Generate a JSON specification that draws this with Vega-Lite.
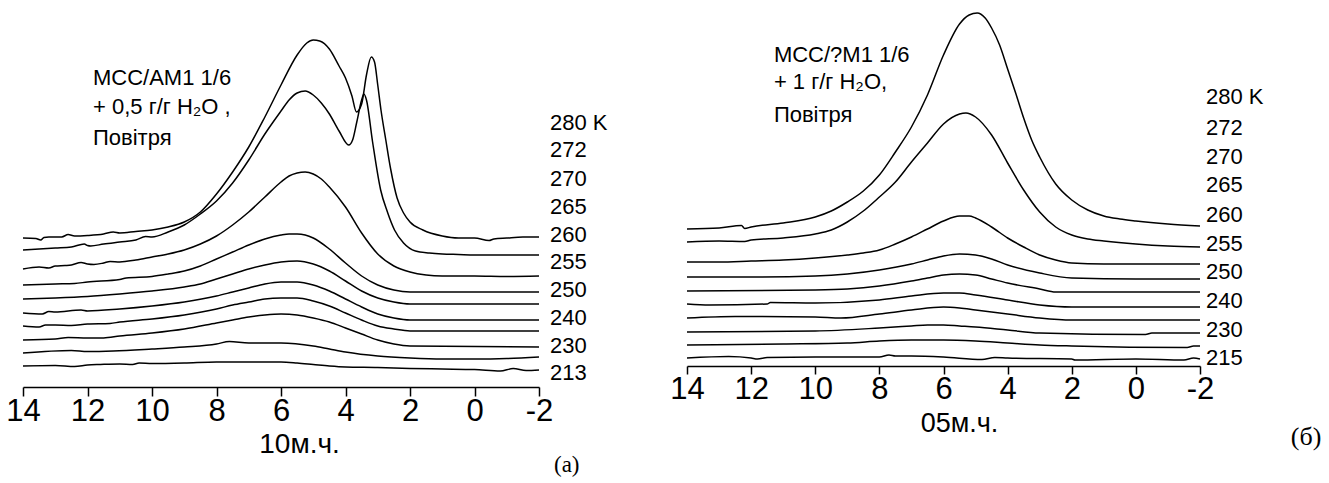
{
  "$schema": "https://vega.github.io/schema/vega-lite/v6.json",
  "padding": {"left": 5, "top": 0, "right": 0, "bottom": 0},
  "spacing": 148,
  "bounds": "flush",
  "config": {"view": {"stroke": null}, "font": "Liberation Sans"},
  "datasets": {
    "left": [
      {"s":"280","x":14,"y":149},{"s":"280","x":13.6,"y":148.5},{"s":"280","x":13.45,"y":147},{"s":"280","x":13.35,"y":149.5},{"s":"280","x":13.2,"y":150},{"s":"280","x":12.8,"y":150},{"s":"280","x":12.6,"y":152.5},{"s":"280","x":12.4,"y":151},{"s":"280","x":12,"y":151.5},{"s":"280","x":11.5,"y":153},{"s":"280","x":11.2,"y":155},{"s":"280","x":11,"y":154},{"s":"280","x":10.5,"y":155.5},{"s":"280","x":10,"y":157},{"s":"280","x":9.5,"y":160},{"s":"280","x":9,"y":165},{"s":"280","x":8.5,"y":175},{"s":"280","x":8,"y":193},{"s":"280","x":7.5,"y":215},{"s":"280","x":7,"y":240},{"s":"280","x":6.5,"y":270},{"s":"280","x":6,"y":302},{"s":"280","x":5.5,"y":332},{"s":"280","x":5.2,"y":344},{"s":"280","x":5,"y":347},{"s":"280","x":4.8,"y":346},{"s":"280","x":4.5,"y":338},{"s":"280","x":4.2,"y":321},{"s":"280","x":4,"y":309},{"s":"280","x":3.8,"y":291},{"s":"280","x":3.66,"y":275},{"s":"280","x":3.5,"y":283},{"s":"280","x":3.35,"y":312},{"s":"280","x":3.2,"y":330},{"s":"280","x":3.1,"y":325},{"s":"280","x":3,"y":302},{"s":"280","x":2.9,"y":277},{"s":"280","x":2.75,"y":247},{"s":"280","x":2.6,"y":218},{"s":"280","x":2.4,"y":189},{"s":"280","x":2.2,"y":174},{"s":"280","x":2,"y":165},{"s":"280","x":1.6,"y":157},{"s":"280","x":1,"y":151},{"s":"280","x":0.5,"y":149},{"s":"280","x":0,"y":149},{"s":"280","x":-0.45,"y":146.5},{"s":"280","x":-0.6,"y":148},{"s":"280","x":-1,"y":149},{"s":"280","x":-1.5,"y":150},{"s":"280","x":-2,"y":150},
      {"s":"272","x":14,"y":137},{"s":"272","x":13.5,"y":138},{"s":"272","x":13,"y":139},{"s":"272","x":12.5,"y":140},{"s":"272","x":12.1,"y":143},{"s":"272","x":12,"y":141.5},{"s":"272","x":11.9,"y":141},{"s":"272","x":11.5,"y":143},{"s":"272","x":11,"y":145},{"s":"272","x":10.5,"y":147},{"s":"272","x":10.2,"y":150.5},{"s":"272","x":10,"y":150},{"s":"272","x":9.5,"y":155},{"s":"272","x":9,"y":162},{"s":"272","x":8.5,"y":173},{"s":"272","x":8,"y":186},{"s":"272","x":7.5,"y":204},{"s":"272","x":7,"y":227},{"s":"272","x":6.5,"y":253},{"s":"272","x":6,"y":276},{"s":"272","x":5.75,"y":287},{"s":"272","x":5.5,"y":294},{"s":"272","x":5.25,"y":296},{"s":"272","x":5,"y":292},{"s":"272","x":4.75,"y":284},{"s":"272","x":4.5,"y":273},{"s":"272","x":4.2,"y":256},{"s":"272","x":3.9,"y":242},{"s":"272","x":3.78,"y":247},{"s":"272","x":3.65,"y":265},{"s":"272","x":3.5,"y":287},{"s":"272","x":3.43,"y":293},{"s":"272","x":3.35,"y":287},{"s":"272","x":3.16,"y":245},{"s":"272","x":2.91,"y":197},{"s":"272","x":2.7,"y":175},{"s":"272","x":2.48,"y":157},{"s":"272","x":2.2,"y":144},{"s":"272","x":1.83,"y":136},{"s":"272","x":1.4,"y":134},{"s":"272","x":1,"y":133},{"s":"272","x":0.5,"y":132.5},{"s":"272","x":0,"y":132},{"s":"272","x":-1,"y":132},{"s":"272","x":-2,"y":132},
      {"s":"270","x":14,"y":118},{"s":"270","x":13.5,"y":120},{"s":"270","x":13.2,"y":119},{"s":"270","x":13,"y":121},{"s":"270","x":12.7,"y":121.5},{"s":"270","x":12.5,"y":122},{"s":"270","x":12.2,"y":124.5},{"s":"270","x":12,"y":123},{"s":"270","x":11.8,"y":122.5},{"s":"270","x":11.5,"y":124},{"s":"270","x":11.3,"y":125.5},{"s":"270","x":11,"y":125},{"s":"270","x":10.5,"y":127},{"s":"270","x":10,"y":130},{"s":"270","x":9.5,"y":133},{"s":"270","x":9,"y":137},{"s":"270","x":8.5,"y":143},{"s":"270","x":8,"y":151},{"s":"270","x":7.5,"y":162},{"s":"270","x":7,"y":175},{"s":"270","x":6.5,"y":190},{"s":"270","x":6,"y":205},{"s":"270","x":5.75,"y":211},{"s":"270","x":5.5,"y":214},{"s":"270","x":5.25,"y":215},{"s":"270","x":5,"y":213},{"s":"270","x":4.75,"y":208},{"s":"270","x":4.5,"y":200},{"s":"270","x":4,"y":180},{"s":"270","x":3.5,"y":154},{"s":"270","x":3,"y":133},{"s":"270","x":2.5,"y":121},{"s":"270","x":2,"y":115},{"s":"270","x":1.5,"y":112},{"s":"270","x":1,"y":111},{"s":"270","x":0,"y":111},{"s":"270","x":-1,"y":110.5},{"s":"270","x":-2,"y":111},
      {"s":"265","x":14,"y":102},{"s":"265","x":13,"y":103},{"s":"265","x":12.4,"y":103.5},{"s":"265","x":12,"y":105},{"s":"265","x":11,"y":107.5},{"s":"265","x":10.8,"y":109},{"s":"265","x":10,"y":110.5},{"s":"265","x":9.5,"y":113},{"s":"265","x":9,"y":116},{"s":"265","x":8.5,"y":121},{"s":"265","x":8,"y":128},{"s":"265","x":7.5,"y":135},{"s":"265","x":7,"y":142},{"s":"265","x":6.5,"y":148},{"s":"265","x":6,"y":152},{"s":"265","x":5.75,"y":153},{"s":"265","x":5.5,"y":153},{"s":"265","x":5.25,"y":152},{"s":"265","x":5,"y":149},{"s":"265","x":4.5,"y":138},{"s":"265","x":4,"y":124},{"s":"265","x":3.5,"y":111},{"s":"265","x":3,"y":102},{"s":"265","x":2.5,"y":97},{"s":"265","x":2,"y":95},{"s":"265","x":1,"y":95},{"s":"265","x":0,"y":95},{"s":"265","x":-1,"y":95},{"s":"265","x":-2,"y":95},
      {"s":"260","x":14,"y":88},{"s":"260","x":13,"y":89},{"s":"260","x":12,"y":90.5},{"s":"260","x":11,"y":93},{"s":"260","x":10,"y":96},{"s":"260","x":9,"y":100},{"s":"260","x":8.5,"y":103},{"s":"260","x":8,"y":108},{"s":"260","x":7.5,"y":113},{"s":"260","x":7,"y":118},{"s":"260","x":6.5,"y":122},{"s":"260","x":6,"y":125},{"s":"260","x":5.5,"y":126},{"s":"260","x":5,"y":123},{"s":"260","x":4.5,"y":116},{"s":"260","x":4,"y":106},{"s":"260","x":3.5,"y":96},{"s":"260","x":3,"y":89},{"s":"260","x":2.5,"y":85},{"s":"260","x":2,"y":83},{"s":"260","x":0,"y":83},{"s":"260","x":-2,"y":83},
      {"s":"255","x":14,"y":74},{"s":"255","x":13.4,"y":73},{"s":"255","x":13.2,"y":75.5},{"s":"255","x":13,"y":75},{"s":"255","x":12.2,"y":77},{"s":"255","x":12,"y":76},{"s":"255","x":11,"y":78},{"s":"255","x":10,"y":81},{"s":"255","x":9,"y":85},{"s":"255","x":8,"y":91},{"s":"255","x":7.5,"y":95},{"s":"255","x":7,"y":99},{"s":"255","x":6.5,"y":103},{"s":"255","x":6,"y":105},{"s":"255","x":5.5,"y":105},{"s":"255","x":5,"y":102},{"s":"255","x":4.5,"y":96},{"s":"255","x":4,"y":88},{"s":"255","x":3.5,"y":80},{"s":"255","x":3,"y":73},{"s":"255","x":2.5,"y":69},{"s":"255","x":2,"y":67},{"s":"255","x":-2,"y":67},
      {"s":"250","x":14,"y":61},{"s":"250","x":13.5,"y":60},{"s":"250","x":13.3,"y":62},{"s":"250","x":13,"y":62},{"s":"250","x":12.5,"y":61.5},{"s":"250","x":12,"y":63},{"s":"250","x":11.3,"y":63.5},{"s":"250","x":11,"y":65},{"s":"250","x":10,"y":68},{"s":"250","x":9,"y":72},{"s":"250","x":8,"y":78},{"s":"250","x":7.5,"y":82},{"s":"250","x":7,"y":85},{"s":"250","x":6.5,"y":88},{"s":"250","x":6,"y":89},{"s":"250","x":5.5,"y":89},{"s":"250","x":5,"y":86},{"s":"250","x":4.5,"y":81},{"s":"250","x":4,"y":74},{"s":"250","x":3.5,"y":67},{"s":"250","x":3,"y":61},{"s":"250","x":2.5,"y":58},{"s":"250","x":2,"y":56},{"s":"250","x":-2,"y":56},
      {"s":"240","x":14,"y":47},{"s":"240","x":13,"y":48},{"s":"240","x":12.6,"y":49.5},{"s":"240","x":12,"y":49},{"s":"240","x":11.5,"y":49},{"s":"240","x":11,"y":51},{"s":"240","x":10,"y":54},{"s":"240","x":9,"y":58},{"s":"240","x":8,"y":64},{"s":"240","x":7.5,"y":67},{"s":"240","x":7,"y":70},{"s":"240","x":6.5,"y":72},{"s":"240","x":6,"y":73},{"s":"240","x":5.5,"y":72},{"s":"240","x":5,"y":69},{"s":"240","x":4.5,"y":65},{"s":"240","x":4,"y":59},{"s":"240","x":3.5,"y":53},{"s":"240","x":3,"y":47},{"s":"240","x":2.5,"y":43},{"s":"240","x":2,"y":41},{"s":"240","x":-2,"y":40},
      {"s":"230","x":14,"y":34},{"s":"230","x":12.5,"y":36.5},{"s":"230","x":12,"y":35.5},{"s":"230","x":11.2,"y":36},{"s":"230","x":10,"y":38},{"s":"230","x":9,"y":40},{"s":"230","x":8,"y":43},{"s":"230","x":7.6,"y":45.5},{"s":"230","x":7,"y":44},{"s":"230","x":6,"y":44},{"s":"230","x":5,"y":41},{"s":"230","x":4.5,"y":38},{"s":"230","x":4,"y":35},{"s":"230","x":3,"y":31},{"s":"230","x":2,"y":29},{"s":"230","x":1,"y":28},{"s":"230","x":0,"y":28},{"s":"230","x":-1,"y":28.5},{"s":"230","x":-2,"y":30},
      {"s":"213","x":14,"y":21},{"s":"213","x":13,"y":21.5},{"s":"213","x":12.4,"y":20.5},{"s":"213","x":12,"y":22},{"s":"213","x":11.6,"y":22.5},{"s":"213","x":11,"y":23},{"s":"213","x":10.6,"y":22.5},{"s":"213","x":10.4,"y":24},{"s":"213","x":10,"y":23.5},{"s":"213","x":9,"y":24},{"s":"213","x":8,"y":25},{"s":"213","x":7,"y":25},{"s":"213","x":6,"y":25},{"s":"213","x":5.5,"y":24},{"s":"213","x":5,"y":22.5},{"s":"213","x":4.5,"y":21},{"s":"213","x":4,"y":20},{"s":"213","x":3,"y":19.5},{"s":"213","x":2,"y":18.5},{"s":"213","x":1,"y":18},{"s":"213","x":0,"y":17.5},{"s":"213","x":-0.8,"y":16},{"s":"213","x":-1.2,"y":18.5},{"s":"213","x":-1.6,"y":16.5},{"s":"213","x":-2,"y":17}
    ],
    "right": [
      {"s":"280","x":14,"y":137},{"s":"280","x":13,"y":138},{"s":"280","x":12.3,"y":140.5},{"s":"280","x":12.2,"y":137.5},{"s":"280","x":12,"y":139},{"s":"280","x":11,"y":143},{"s":"280","x":10,"y":149},{"s":"280","x":9.5,"y":155},{"s":"280","x":9,"y":164},{"s":"280","x":8.5,"y":175},{"s":"280","x":8,"y":191},{"s":"280","x":7.5,"y":214},{"s":"280","x":7,"y":239},{"s":"280","x":6.5,"y":271},{"s":"280","x":6,"y":311},{"s":"280","x":5.5,"y":342},{"s":"280","x":5.2,"y":351},{"s":"280","x":4.95,"y":353},{"s":"280","x":4.7,"y":348},{"s":"280","x":4.5,"y":338},{"s":"280","x":4.25,"y":321},{"s":"280","x":4,"y":297},{"s":"280","x":3.75,"y":273},{"s":"280","x":3.5,"y":248},{"s":"280","x":3.25,"y":226},{"s":"280","x":3,"y":209},{"s":"280","x":2.5,"y":182},{"s":"280","x":2,"y":166},{"s":"280","x":1.5,"y":156},{"s":"280","x":1,"y":150},{"s":"280","x":0.5,"y":147},{"s":"280","x":0,"y":145},{"s":"280","x":-1,"y":142},{"s":"280","x":-2,"y":140},
      {"s":"272","x":14,"y":124},{"s":"272","x":13,"y":125},{"s":"272","x":12.2,"y":124.5},{"s":"272","x":12,"y":126},{"s":"272","x":11,"y":128},{"s":"272","x":10,"y":132},{"s":"272","x":9.5,"y":136},{"s":"272","x":9,"y":144},{"s":"272","x":8.5,"y":155},{"s":"272","x":8,"y":169},{"s":"272","x":7.5,"y":184},{"s":"272","x":7,"y":204},{"s":"272","x":6.5,"y":223},{"s":"272","x":6,"y":242},{"s":"272","x":5.5,"y":252},{"s":"272","x":5.3,"y":253},{"s":"272","x":5,"y":249},{"s":"272","x":4.5,"y":231},{"s":"272","x":4,"y":203},{"s":"272","x":3.5,"y":176},{"s":"272","x":3,"y":154},{"s":"272","x":2.5,"y":139},{"s":"272","x":2,"y":131},{"s":"272","x":1.5,"y":127},{"s":"272","x":1,"y":125},{"s":"272","x":0,"y":122},{"s":"272","x":-1,"y":120},{"s":"272","x":-2,"y":119},
      {"s":"270","x":14,"y":104},{"s":"270","x":13,"y":104},{"s":"270","x":12,"y":105},{"s":"270","x":11,"y":106},{"s":"270","x":10,"y":108},{"s":"270","x":9,"y":111},{"s":"270","x":8.5,"y":113},{"s":"270","x":8,"y":116},{"s":"270","x":7.5,"y":122},{"s":"270","x":7,"y":129},{"s":"270","x":6.5,"y":137},{"s":"270","x":6,"y":145},{"s":"270","x":5.5,"y":150},{"s":"270","x":5.2,"y":150},{"s":"270","x":5,"y":148},{"s":"270","x":4.5,"y":139},{"s":"270","x":4,"y":128},{"s":"270","x":3.5,"y":119},{"s":"270","x":3,"y":111},{"s":"270","x":2.5,"y":106},{"s":"270","x":2,"y":103},{"s":"270","x":1,"y":102},{"s":"270","x":0,"y":102},{"s":"270","x":-2,"y":102},
      {"s":"265","x":14,"y":89},{"s":"265","x":12,"y":89},{"s":"265","x":10,"y":90},{"s":"265","x":9,"y":92},{"s":"265","x":8,"y":96},{"s":"265","x":7,"y":102},{"s":"265","x":6.5,"y":106},{"s":"265","x":6,"y":110},{"s":"265","x":5.5,"y":112},{"s":"265","x":5,"y":111},{"s":"265","x":4.5,"y":107},{"s":"265","x":4,"y":101},{"s":"265","x":3,"y":93},{"s":"265","x":2,"y":88},{"s":"265","x":0,"y":87},{"s":"265","x":-2,"y":87},
      {"s":"260","x":14,"y":75},{"s":"260","x":10,"y":76},{"s":"260","x":9,"y":77},{"s":"260","x":8,"y":80},{"s":"260","x":7,"y":85},{"s":"260","x":6.5,"y":88},{"s":"260","x":6,"y":91},{"s":"260","x":5.5,"y":92},{"s":"260","x":5,"y":91},{"s":"260","x":4.5,"y":87},{"s":"260","x":4,"y":83},{"s":"260","x":3,"y":77},{"s":"260","x":2.5,"y":74},{"s":"260","x":-2,"y":74},
      {"s":"255","x":14,"y":62},{"s":"255","x":13.3,"y":61},{"s":"255","x":11.5,"y":62},{"s":"255","x":11.4,"y":63.5},{"s":"255","x":10,"y":63},{"s":"255","x":8,"y":66},{"s":"255","x":7,"y":70},{"s":"255","x":6,"y":73},{"s":"255","x":5.5,"y":73},{"s":"255","x":5,"y":71},{"s":"255","x":4,"y":66},{"s":"255","x":3,"y":61},{"s":"255","x":2,"y":59},{"s":"255","x":-2,"y":59},
      {"s":"250","x":14,"y":48},{"s":"250","x":12.5,"y":49.5},{"s":"250","x":10,"y":49},{"s":"250","x":9.2,"y":48},{"s":"250","x":8,"y":52},{"s":"250","x":7,"y":56},{"s":"250","x":6,"y":59},{"s":"250","x":5.5,"y":58},{"s":"250","x":5,"y":56},{"s":"250","x":4,"y":52},{"s":"250","x":3,"y":48},{"s":"250","x":2,"y":46},{"s":"250","x":-2,"y":46},
      {"s":"240","x":14,"y":34},{"s":"240","x":10,"y":35},{"s":"240","x":8,"y":38},{"s":"240","x":7,"y":40},{"s":"240","x":6.5,"y":41},{"s":"240","x":6,"y":41},{"s":"240","x":5.5,"y":40},{"s":"240","x":5,"y":39},{"s":"240","x":4,"y":36},{"s":"240","x":3,"y":33},{"s":"240","x":-0.3,"y":31.5},{"s":"240","x":-0.5,"y":33},{"s":"240","x":-2,"y":33},
      {"s":"230","x":14,"y":21},{"s":"230","x":11,"y":22},{"s":"230","x":9,"y":23},{"s":"230","x":8,"y":25},{"s":"230","x":7,"y":26},{"s":"230","x":6,"y":26},{"s":"230","x":5,"y":25},{"s":"230","x":4,"y":23},{"s":"230","x":3,"y":21},{"s":"230","x":2,"y":20},{"s":"230","x":-1.6,"y":18.5},{"s":"230","x":-1.8,"y":20},{"s":"230","x":-2,"y":20},
      {"s":"215","x":14,"y":8},{"s":"215","x":12.7,"y":9.5},{"s":"215","x":12,"y":8},{"s":"215","x":11.8,"y":7},{"s":"215","x":11.5,"y":8.5},{"s":"215","x":10,"y":9},{"s":"215","x":8,"y":9},{"s":"215","x":7.7,"y":11},{"s":"215","x":7.5,"y":10},{"s":"215","x":7,"y":10},{"s":"215","x":6,"y":9},{"s":"215","x":4.8,"y":6.5},{"s":"215","x":4.4,"y":8.5},{"s":"215","x":4,"y":8},{"s":"215","x":2,"y":7},{"s":"215","x":1.9,"y":6},{"s":"215","x":0,"y":7},{"s":"215","x":-1.5,"y":6},{"s":"215","x":-1.8,"y":8},{"s":"215","x":-2,"y":7}
    ],
    "leftLab": [
      {"t":"280 K","y":264},{"t":"272","y":237},{"t":"270","y":208},{"t":"265","y":180},{"t":"260","y":152},{"t":"255","y":125},{"t":"250","y":97},{"t":"240","y":69},{"t":"230","y":41},{"t":"213","y":14}
    ],
    "rightLab": [
      {"t":"280 K","y":269},{"t":"272","y":238},{"t":"270","y":209},{"t":"265","y":181},{"t":"260","y":151},{"t":"255","y":122},{"t":"250","y":94},{"t":"240","y":65},{"t":"230","y":36},{"t":"215","y":8}
    ]
  },
  "hconcat": [
    {
      "width": 516,
      "height": 387,
      "layer": [
        {
          "data": {"name": "left"},
          "mark": {"type": "line", "color": "black", "strokeWidth": 1.5, "interpolate": "monotone"},
          "encoding": {
            "x": {"field": "x", "type": "quantitative",
              "scale": {"domain": [14, -2], "nice": false, "zero": false},
              "axis": {"values": [14,13,12,11,10,9,8,7,6,5,4,3,2,1,0,-1,-2],
                "labelExpr": "datum.value % 2 === 0 ? '' + datum.value : ''",
                "tickSize": {"condition": {"test": "datum.value % 2 === 0", "value": 9}, "value": 5},
                "tickColor": "black", "tickWidth": 1.5, "domainColor": "black", "domainWidth": 1.5,
                "labelFontSize": 31, "labelColor": "black", "labelPadding": 0, "labelFont": "Liberation Sans",
                "labelFlush": false, "labelOverlap": false, "grid": false,
                "title": "10м.ч.", "titleFontSize": 28, "titleFontWeight": "normal", "titleColor": "black",
                "titleFont": "Liberation Sans", "titlePadding": 4, "titleX": 276}},
            "y": {"field": "y", "type": "quantitative", "scale": {"domain": [0, 387], "nice": false, "zero": false}, "axis": null},
            "detail": {"field": "s", "type": "nominal"}
          }
        },
        {
          "data": {"name": "leftLab"},
          "mark": {"type": "text", "align": "left", "baseline": "middle", "dx": 11, "fontSize": 22, "font": "Liberation Sans", "color": "black"},
          "encoding": {
            "x": {"datum": -2, "type": "quantitative"},
            "y": {"field": "y", "type": "quantitative"},
            "text": {"field": "t"}
          }
        },
        {
          "data": {"values": [{}]},
          "mark": {"type": "text", "align": "left", "baseline": "middle", "fontSize": 22, "font": "Liberation Sans", "color": "black"},
          "encoding": {"x": {"datum": 11.83, "type": "quantitative"}, "y": {"datum": 309, "type": "quantitative"}, "text": {"value": "MCC/AM1 1/6"}}
        },
        {
          "data": {"values": [{}]},
          "mark": {"type": "text", "align": "left", "baseline": "middle", "fontSize": 22, "font": "Liberation Sans", "color": "black"},
          "encoding": {"x": {"datum": 11.83, "type": "quantitative"}, "y": {"datum": 280, "type": "quantitative"}, "text": {"value": "+ 0,5 г/г H₂O ,"}}
        },
        {
          "data": {"values": [{}]},
          "mark": {"type": "text", "align": "left", "baseline": "middle", "fontSize": 22, "font": "Liberation Sans", "color": "black"},
          "encoding": {"x": {"datum": 11.83, "type": "quantitative"}, "y": {"datum": 249, "type": "quantitative"}, "text": {"value": "Повітря"}}
        },
        {
          "data": {"values": [{}]},
          "mark": {"type": "text", "align": "center", "baseline": "middle", "fontSize": 23, "font": "Liberation Serif", "color": "black"},
          "encoding": {"x": {"datum": -2.86, "type": "quantitative"}, "y": {"datum": -78, "type": "quantitative"}, "text": {"value": "(а)"}}
        }
      ]
    },
    {
      "width": 513,
      "height": 366,
      "layer": [
        {
          "data": {"name": "right"},
          "mark": {"type": "line", "color": "black", "strokeWidth": 1.5, "interpolate": "monotone"},
          "encoding": {
            "x": {"field": "x", "type": "quantitative",
              "scale": {"domain": [14, -2], "nice": false, "zero": false},
              "axis": {"values": [14,13,12,11,10,9,8,7,6,5,4,3,2,1,0,-1,-2],
                "labelExpr": "datum.value % 2 === 0 ? '' + datum.value : ''",
                "tickSize": {"condition": {"test": "datum.value % 2 === 0", "value": 8}, "value": 4},
                "tickColor": "black", "tickWidth": 1.5, "domainColor": "black", "domainWidth": 1.5,
                "labelFontSize": 31, "labelColor": "black", "labelPadding": 0, "labelFont": "Liberation Sans",
                "labelFlush": false, "labelOverlap": false, "grid": false,
                "title": "05м.ч.", "titleFontSize": 27, "titleFontWeight": "normal", "titleColor": "black",
                "titleFont": "Liberation Sans", "titlePadding": 6, "titleX": 272}},
            "y": {"field": "y", "type": "quantitative", "scale": {"domain": [0, 366], "nice": false, "zero": false}, "axis": null},
            "detail": {"field": "s", "type": "nominal"}
          }
        },
        {
          "data": {"name": "rightLab"},
          "mark": {"type": "text", "align": "left", "baseline": "middle", "dx": 6, "fontSize": 22, "font": "Liberation Sans", "color": "black"},
          "encoding": {
            "x": {"datum": -2, "type": "quantitative"},
            "y": {"field": "y", "type": "quantitative"},
            "text": {"field": "t"}
          }
        },
        {
          "data": {"values": [{}]},
          "mark": {"type": "text", "align": "left", "baseline": "middle", "fontSize": 22, "font": "Liberation Sans", "color": "black"},
          "encoding": {"x": {"datum": 11.29, "type": "quantitative"}, "y": {"datum": 311, "type": "quantitative"}, "text": {"value": "MCC/?M1 1/6"}}
        },
        {
          "data": {"values": [{}]},
          "mark": {"type": "text", "align": "left", "baseline": "middle", "fontSize": 22, "font": "Liberation Sans", "color": "black"},
          "encoding": {"x": {"datum": 11.29, "type": "quantitative"}, "y": {"datum": 284, "type": "quantitative"}, "text": {"value": "+ 1 г/г  H₂O,"}}
        },
        {
          "data": {"values": [{}]},
          "mark": {"type": "text", "align": "left", "baseline": "middle", "fontSize": 22, "font": "Liberation Sans", "color": "black"},
          "encoding": {"x": {"datum": 11.29, "type": "quantitative"}, "y": {"datum": 251, "type": "quantitative"}, "text": {"value": "Повітря"}}
        },
        {
          "data": {"values": [{}]},
          "mark": {"type": "text", "align": "center", "baseline": "middle", "fontSize": 26, "font": "Liberation Serif", "color": "black"},
          "encoding": {"x": {"datum": -5.31, "type": "quantitative"}, "y": {"datum": -71, "type": "quantitative"}, "text": {"value": "(б)"}}
        }
      ]
    }
  ]
}
